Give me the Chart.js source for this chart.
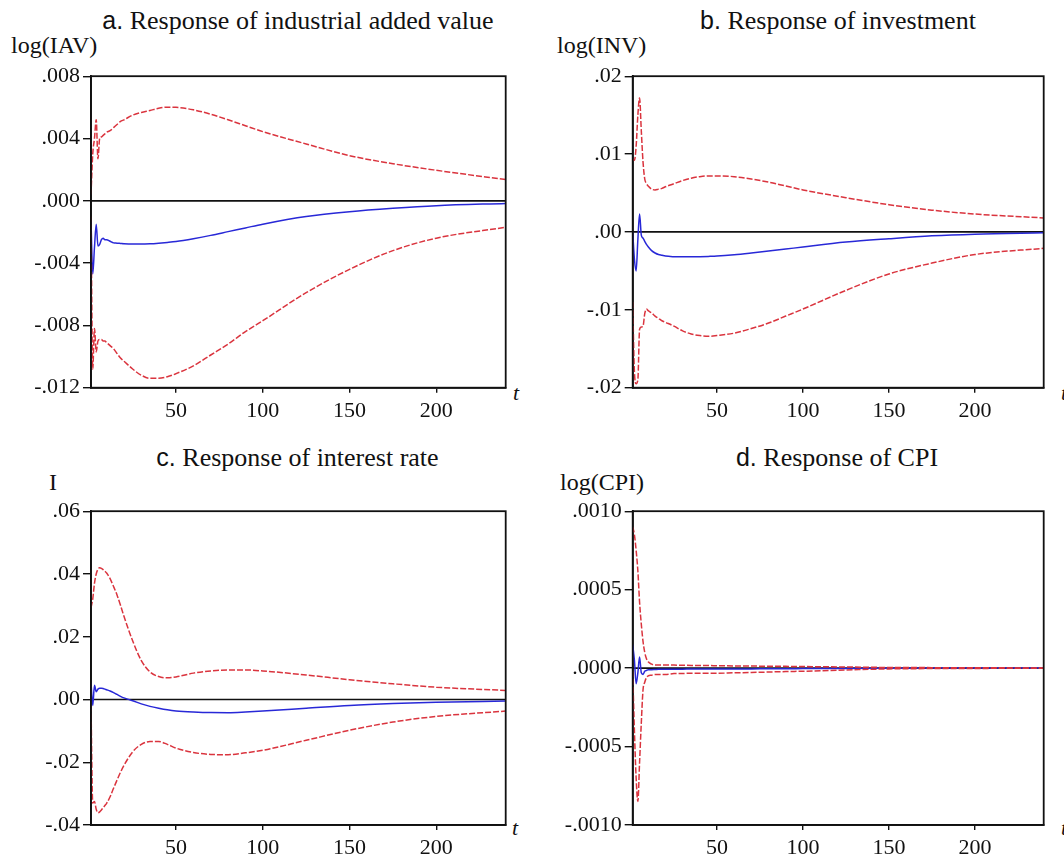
<!DOCTYPE html>
<html>
<head>
<meta charset="utf-8">
<script src="https://cdn.jsdelivr.net/npm/chart.js@4.4.1/dist/chart.umd.min.js"></script>
<style>
  body { margin: 0; background: #fff; width: 1064px; height: 860px; position: relative; overflow: hidden;
         font-family: "Liberation Serif", "Times New Roman", serif; color: #111; }
  canvas.panel { position: absolute; }
  .txt { position: absolute; white-space: nowrap; line-height: 1; }
  .title { font-size: 26px; transform: translateX(-50%); }
  .title .lt { font-family: "Liberation Sans", Arial, sans-serif; font-size: 25px; }
  .ylab { font-size: 24px; }
  .tlab { font-size: 22px; font-style: italic; }
</style>
</head>
<body>

<div class="txt title" style="left:298px; top:7.5px;"><span class="lt">a.</span> Response of industrial added value</div>
<div class="txt title" style="left:838px; top:7.5px;"><span class="lt">b.</span> Response of investment</div>
<div class="txt title" style="left:297.5px; top:445px;"><span class="lt">c.</span> Response of interest rate</div>
<div class="txt title" style="left:837px; top:445px;"><span class="lt">d.</span> Response of CPI</div>

<div class="txt ylab" style="left:11px; top:33px;">log(IAV)</div>
<div class="txt ylab" style="left:557px; top:33px;">log(INV)</div>
<div class="txt ylab" style="left:49px; top:470px;">I</div>
<div class="txt ylab" style="left:560px; top:470px;">log(CPI)</div>

<div class="txt tlab" style="left:513px; top:381.6px;">t</div>
<div class="txt tlab" style="left:1061px; top:381.6px;">t</div>
<div class="txt tlab" style="left:512px; top:816.6px;">t</div>
<div class="txt tlab" style="left:1061px; top:816.6px;">t</div>

<canvas id="pa" class="panel" width="525" height="370" style="left:0px; top:60px;"></canvas>
<canvas id="pb" class="panel" width="534" height="370" style="left:530px; top:60px;"></canvas>
<canvas id="pc" class="panel" width="525" height="365" style="left:0px; top:495px;"></canvas>
<canvas id="pd" class="panel" width="534" height="365" style="left:530px; top:495px;"></canvas>

<script>
// Horizon (periods after the shock)
const periods = [1,2,3,4,5,6,7,8,9,10,12,14,16,18,20,25,30,35,40,45,50,60,70,80,90,100,125,150,175,200,240];
const xTicks = [50, 100, 150, 200];

// a. industrial added value
const iavIrf   = [-0.0013,-0.0047,-0.0030,-0.0015,-0.0029,-0.0028,-0.0025,-0.0024,-0.0025,-0.0025,-0.0026,-0.0027,-0.00272,-0.00274,-0.00276,-0.00278,-0.00278,-0.00276,-0.00272,-0.00267,-0.00261,-0.00243,-0.00222,-0.00198,-0.00174,-0.0015,-0.00101,-0.0007,-0.00048,-0.00031,-0.00017];
const iavUpper = [0.0004,0.0030,0.0040,0.0052,0.0027,0.0040,0.0041,0.0042,0.0043,0.0044,0.0045,0.0047,0.0049,0.0051,0.0052,0.0055,0.00567,0.0058,0.00594,0.00601,0.0060,0.00584,0.00556,0.0052,0.00482,0.00444,0.00365,0.0029,0.00238,0.00196,0.00136];
const iavLower = [-0.0010,-0.0108,-0.0082,-0.0097,-0.0090,-0.0089,-0.0089,-0.0090,-0.0090,-0.0091,-0.0093,-0.0095,-0.0098,-0.0101,-0.0103,-0.0108,-0.0112,-0.0114,-0.0114,-0.0113,-0.0111,-0.0106,-0.0099,-0.0092,-0.0084,-0.0077,-0.0059,-0.0044,-0.0032,-0.0024,-0.0017];
const iavTicks = [-0.012, -0.008, -0.004, 0, 0.004, 0.008];

// b. investment
const invIrf   = [0.0,-0.0035,-0.0050,-0.0010,0.0023,-0.0004,-0.0008,-0.0012,-0.0016,-0.0019,-0.0024,-0.0027,-0.0029,-0.0030,-0.0031,-0.00318,-0.0032,-0.0032,-0.00318,-0.00314,-0.00309,-0.00292,-0.00270,-0.00246,-0.00220,-0.00193,-0.0013,-0.00087,-0.0005,-0.00028,-0.0001];
const invUpper = [0.0094,0.0092,0.0110,0.0150,0.0172,0.0130,0.0090,0.0068,0.0062,0.0059,0.0055,0.0054,0.0055,0.0056,0.0058,0.0062,0.0066,0.0069,0.0071,0.0072,0.0072,0.0071,0.0068,0.0064,0.0059,0.0054,0.0044,0.0035,0.0028,0.0023,0.0018];
const invLower = [-0.0090,-0.0180,-0.0195,-0.0190,-0.0125,-0.0122,-0.0121,-0.0105,-0.0099,-0.0101,-0.0104,-0.0108,-0.0111,-0.0114,-0.0116,-0.0121,-0.0127,-0.0131,-0.0133,-0.0134,-0.0133,-0.0130,-0.0124,-0.0117,-0.0108,-0.0099,-0.0075,-0.0054,-0.0040,-0.0029,-0.0021];
const invTicks = [-0.02, -0.01, 0, 0.01, 0.02];

// c. interest rate
const irIrf   = [0.0055,-0.0019,0.0045,0.0025,0.0033,0.0036,0.0036,0.0035,0.0033,0.0031,0.0027,0.0022,0.0016,0.0010,0.0005,-0.0004,-0.0014,-0.0022,-0.0028,-0.0033,-0.00365,-0.0040,-0.00418,-0.0042,-0.0040,-0.0037,-0.0028,-0.0019,-0.0013,-0.0009,-0.0005];
const irUpper = [0.0293,0.0320,0.0370,0.0400,0.0415,0.0420,0.0418,0.0414,0.0409,0.0403,0.0385,0.0360,0.0333,0.0300,0.0265,0.0187,0.0124,0.0088,0.0073,0.0069,0.0072,0.0084,0.0091,0.0094,0.0094,0.0091,0.0078,0.0063,0.0050,0.0039,0.0029];
const irLower = [-0.0020,-0.0330,-0.0325,-0.0350,-0.0361,-0.0358,-0.0352,-0.0345,-0.0338,-0.0331,-0.0310,-0.0283,-0.0257,-0.0232,-0.0210,-0.0167,-0.0143,-0.0134,-0.0134,-0.0143,-0.0155,-0.0169,-0.0175,-0.0176,-0.0170,-0.0162,-0.0130,-0.0098,-0.0072,-0.0054,-0.0037];
const irTicks = [-0.04, -0.02, 0, 0.02, 0.04, 0.06];

// d. CPI
const cpiIrf   = [0.00015,0.00005,-0.00010,-0.00003,0.00007,-0.00003,-0.00004,-0.00002,-0.000015,-0.00001,-0.00001,-0.000009,-0.000008,-0.000008,-0.000008,-0.000007,-0.000007,-0.000006,-0.000006,-0.000006,-0.000006,-0.000005,-0.000005,-0.000004,-0.000004,-0.000003,-0.000002,-0.000001,0,0,0];
const cpiUpper = [0.00090,0.00085,0.00075,0.00062,0.00042,0.00028,0.00017,0.00010,0.00006,0.00004,0.000025,0.00002,0.00002,0.00002,0.00002,0.000019,0.000018,0.000017,0.000016,0.000016,0.000015,0.000014,0.000013,0.000012,0.000011,0.00001,0.000007,0.000004,0.000003,0.000002,0.000001];
const cpiLower = [-0.00002,-0.00040,-0.00070,-0.00085,-0.00060,-0.00035,-0.00014,-0.00009,-0.00006,-0.00005,-0.000045,-0.00004,-0.00004,-0.00004,-0.00004,-0.000035,-0.000034,-0.000033,-0.000033,-0.000033,-0.000033,-0.00003,-0.000028,-0.000025,-0.000022,-0.00002,-0.000012,-0.000005,-0.000003,-0.000002,-0.000001];
const cpiTicks = [-0.001, -0.0005, 0, 0.0005, 0.001];

const RED = 'rgb(218,52,62)';
const BLUE = 'rgb(40,40,215)';
const INK = '#111';
const SERIF = '"Liberation Serif", "Times New Roman", serif';

// zero reference line and closed frame around the plot area
const framePlugin = {
  id: 'frame',
  beforeDatasetsDraw(chart) {
    const { ctx, chartArea: a, scales: { y } } = chart;
    const y0 = y.getPixelForValue(0);
    ctx.save();
    ctx.strokeStyle = INK;
    ctx.lineWidth = 1.7;
    ctx.beginPath();
    ctx.moveTo(a.left, y0);
    ctx.lineTo(a.right, y0);
    ctx.stroke();
    ctx.restore();
  },
  afterDatasetsDraw(chart) {
    const { ctx, chartArea: a } = chart;
    ctx.save();
    ctx.strokeStyle = INK;
    ctx.lineWidth = 1.8;
    ctx.strokeRect(a.left, a.top, a.right - a.left, a.bottom - a.top);
    ctx.restore();
  }
};

function series(vals, color, dashed) {
  return {
    data: periods.map((t, i) => ({ x: t, y: vals[i] })),
    borderColor: color,
    borderWidth: 1.5,
    borderDash: dashed ? [6, 2] : [],
    pointRadius: 0,
    fill: false,
    cubicInterpolationMode: 'monotone'
  };
}

function panel(id, irf, upper, lower, yTicks, decimals, box) {
  new Chart(document.getElementById(id), {
    type: 'line',
    data: { datasets: [series(upper, RED, true), series(lower, RED, true), series(irf, BLUE, false)] },
    options: {
      responsive: false,
      animation: false,
      devicePixelRatio: 1,
      layout: { autoPadding: false, padding: { top: box.top, right: box.right, left: 0, bottom: 0 } },
      plugins: { legend: { display: false }, tooltip: { enabled: false } },
      scales: {
        x: {
          type: 'linear', min: 1, max: 240,
          afterBuildTicks: s => { s.ticks = xTicks.map(v => ({ value: v })); },
          afterFit: s => { s.height = box.xh; },
          grid: { drawOnChartArea: false, tickLength: 5, color: INK, lineWidth: 1.4 },
          border: { color: INK, width: 1.8 },
          ticks: { font: { family: SERIF, size: 22 }, color: INK, padding: 5, maxRotation: 0, autoSkip: false }
        },
        y: {
          type: 'linear', min: yTicks[0], max: yTicks[yTicks.length - 1],
          afterBuildTicks: s => { s.ticks = yTicks.map(v => ({ value: v })); },
          afterFit: s => { s.width = box.yw; },
          grid: { drawOnChartArea: false, tickLength: 8, color: INK, lineWidth: 1.4 },
          border: { color: INK, width: 1.8 },
          ticks: {
            font: { family: SERIF, size: 22 }, color: INK, padding: 3, autoSkip: false,
            callback: v => (v < 0 ? '-' : '') + Math.abs(v).toFixed(decimals).replace(/^0/, '')
          }
        }
      }
    },
    plugins: [framePlugin]
  });
}

panel('pa', iavIrf, iavUpper, iavLower, iavTicks, 3, { top: 13.3, right: 19.3, yw: 91, xh: 42.3 });
panel('pb', invIrf, invUpper, invLower, invTicks, 2, { top: 13.3, right: 20.3, yw: 102.7, xh: 42.3 });
panel('pc', irIrf, irUpper, irLower, irTicks, 2, { top: 15, right: 19.3, yw: 91, xh: 35 });
panel('pd', cpiIrf, cpiUpper, cpiLower, cpiTicks, 4, { top: 15, right: 20.3, yw: 102.7, xh: 35 });
</script>
</body>
</html>
